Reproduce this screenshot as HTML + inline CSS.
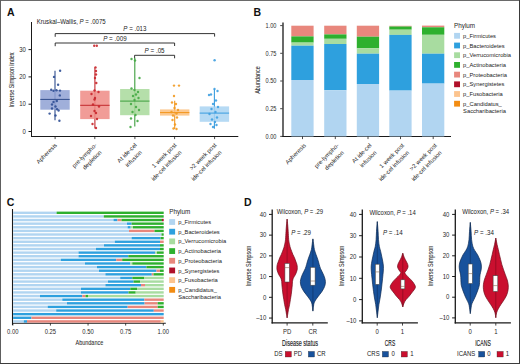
<!DOCTYPE html>
<html><head><meta charset="utf-8"><style>
html,body{margin:0;padding:0;background:#fff;}
svg{display:block;font-family:"Liberation Sans",sans-serif;}
</style></head><body>
<svg width="520" height="364" viewBox="0 0 520 364">
<rect x="0" y="0" width="520" height="364" fill="#fff"/>
<text x="6.90" y="15.80" font-size="10.5" text-anchor="start" fill="#111" font-weight="bold" >A</text>
<text x="253.40" y="15.50" font-size="10.5" text-anchor="start" fill="#111" font-weight="bold" >B</text>
<text x="6.80" y="205.60" font-size="10.5" text-anchor="start" fill="#111" font-weight="bold" >C</text>
<text x="244.00" y="206.30" font-size="10.5" text-anchor="start" fill="#111" font-weight="bold" >D</text>
<line x1="31.50" y1="22.00" x2="31.50" y2="137.00" stroke="#1a1a1a" stroke-width="1.0"/>
<line x1="31.00" y1="136.50" x2="238.30" y2="136.50" stroke="#1a1a1a" stroke-width="1.1"/>
<line x1="28.50" y1="131.50" x2="31.00" y2="131.50" stroke="#1a1a1a" stroke-width="1.0"/>
<text x="25.90" y="133.70" font-size="6.48" text-anchor="end" fill="#2a2a2a" font-weight="normal" textLength="3.34" lengthAdjust="spacingAndGlyphs" >0</text>
<line x1="28.50" y1="104.20" x2="31.00" y2="104.20" stroke="#1a1a1a" stroke-width="1.0"/>
<text x="25.90" y="106.40" font-size="6.48" text-anchor="end" fill="#2a2a2a" font-weight="normal" textLength="6.67" lengthAdjust="spacingAndGlyphs" >10</text>
<line x1="28.50" y1="76.90" x2="31.00" y2="76.90" stroke="#1a1a1a" stroke-width="1.0"/>
<text x="25.90" y="79.10" font-size="6.48" text-anchor="end" fill="#2a2a2a" font-weight="normal" textLength="6.67" lengthAdjust="spacingAndGlyphs" >20</text>
<line x1="28.50" y1="49.60" x2="31.00" y2="49.60" stroke="#1a1a1a" stroke-width="1.0"/>
<text x="25.90" y="51.80" font-size="6.48" text-anchor="end" fill="#2a2a2a" font-weight="normal" textLength="6.67" lengthAdjust="spacingAndGlyphs" >30</text>
<text transform="translate(13.90 80.00) rotate(-90)" font-size="8" text-anchor="middle" fill="#2a2a2a" font-weight="normal" textLength="55" lengthAdjust="spacingAndGlyphs" stroke="#2a2a2a" stroke-width="0.06">Inverse Simpson index</text>
<text x="36.70" y="24.40" font-size="6.5" text-anchor="start" fill="#222" font-weight="normal" textLength="69" lengthAdjust="spacingAndGlyphs" >Kruskal–Wallis, <tspan font-style="italic">P</tspan> = .0075</text>
<path d="M55.2 36.800000000000004V33.6H214.6V36.6" fill="none" stroke="#2a2a2a" stroke-width="0.95"/>
<text x="134.90" y="31.40" font-size="6.5" text-anchor="middle" fill="#222" font-weight="normal" textLength="23.1" lengthAdjust="spacingAndGlyphs" ><tspan font-style="italic">P</tspan> = .013</text>
<path d="M55.2 46.2V43.0H174.6V46.0" fill="none" stroke="#2a2a2a" stroke-width="0.95"/>
<text x="114.90" y="40.80" font-size="6.5" text-anchor="middle" fill="#222" font-weight="normal" textLength="23.5" lengthAdjust="spacingAndGlyphs" ><tspan font-style="italic">P</tspan> = .009</text>
<path d="M134.6 58.5V55.3H174.6V58.3" fill="none" stroke="#2a2a2a" stroke-width="0.95"/>
<text x="154.60" y="53.10" font-size="6.5" text-anchor="middle" fill="#222" font-weight="normal" textLength="20" lengthAdjust="spacingAndGlyphs" ><tspan font-style="italic">P</tspan> = .05</text>
<line x1="55.00" y1="70.80" x2="55.00" y2="120.30" stroke="#2F4B8C" stroke-width="1.1"/>
<rect x="40.30" y="90.10" width="29.40" height="19.60" fill="#8FA1D3" fill-opacity="0.85" stroke="none" stroke-width="0"/>
<line x1="40.30" y1="99.40" x2="69.70" y2="99.40" stroke="#2F4B8C" stroke-width="1.0"/>
<line x1="94.90" y1="67.40" x2="94.90" y2="128.50" stroke="#C42A2E" stroke-width="1.1"/>
<rect x="80.20" y="90.70" width="29.40" height="28.40" fill="#EF8B85" fill-opacity="0.85" stroke="none" stroke-width="0"/>
<line x1="80.20" y1="105.30" x2="109.60" y2="105.30" stroke="#C42A2E" stroke-width="1.0"/>
<line x1="134.80" y1="57.80" x2="134.80" y2="126.50" stroke="#3D9E3D" stroke-width="1.1"/>
<rect x="120.10" y="89.00" width="29.40" height="26.20" fill="#A8D99B" fill-opacity="0.85" stroke="none" stroke-width="0"/>
<line x1="120.10" y1="101.10" x2="149.50" y2="101.10" stroke="#3D9E3D" stroke-width="1.0"/>
<line x1="174.70" y1="100.70" x2="174.70" y2="129.00" stroke="#F2951B" stroke-width="1.1"/>
<rect x="160.00" y="109.40" width="29.40" height="6.20" fill="#FCC07C" fill-opacity="0.85" stroke="none" stroke-width="0"/>
<line x1="160.00" y1="112.60" x2="189.40" y2="112.60" stroke="#F2951B" stroke-width="1.0"/>
<line x1="214.40" y1="89.00" x2="214.40" y2="128.70" stroke="#3A9DDF" stroke-width="1.1"/>
<rect x="199.70" y="106.40" width="29.40" height="15.40" fill="#A9D3F2" fill-opacity="0.85" stroke="none" stroke-width="0"/>
<line x1="199.70" y1="113.10" x2="229.10" y2="113.10" stroke="#3A9DDF" stroke-width="1.0"/>
<circle cx="60.10" cy="70.80" r="1.2" fill="#2F4F95" fill-opacity="0.9"/>
<circle cx="54.00" cy="76.90" r="1.2" fill="#2F4F95" fill-opacity="0.9"/>
<circle cx="58.10" cy="84.80" r="1.2" fill="#2F4F95" fill-opacity="0.9"/>
<circle cx="51.20" cy="89.70" r="1.2" fill="#2F4F95" fill-opacity="0.9"/>
<circle cx="53.50" cy="90.80" r="1.2" fill="#2F4F95" fill-opacity="0.9"/>
<circle cx="56.50" cy="90.20" r="1.2" fill="#2F4F95" fill-opacity="0.9"/>
<circle cx="60.00" cy="90.60" r="1.2" fill="#2F4F95" fill-opacity="0.9"/>
<circle cx="59.80" cy="95.40" r="1.2" fill="#2F4F95" fill-opacity="0.9"/>
<circle cx="53.50" cy="102.00" r="1.2" fill="#2F4F95" fill-opacity="0.9"/>
<circle cx="52.00" cy="104.50" r="1.2" fill="#2F4F95" fill-opacity="0.9"/>
<circle cx="55.50" cy="106.50" r="1.2" fill="#2F4F95" fill-opacity="0.9"/>
<circle cx="52.00" cy="108.50" r="1.2" fill="#2F4F95" fill-opacity="0.9"/>
<circle cx="57.00" cy="109.30" r="1.2" fill="#2F4F95" fill-opacity="0.9"/>
<circle cx="58.60" cy="110.50" r="1.2" fill="#2F4F95" fill-opacity="0.9"/>
<circle cx="49.60" cy="113.60" r="1.2" fill="#2F4F95" fill-opacity="0.9"/>
<circle cx="55.50" cy="115.50" r="1.2" fill="#2F4F95" fill-opacity="0.9"/>
<circle cx="59.40" cy="120.70" r="1.2" fill="#2F4F95" fill-opacity="0.9"/>
<circle cx="56.80" cy="101.00" r="1.2" fill="#2F4F95" fill-opacity="0.9"/>
<circle cx="94.20" cy="45.70" r="1.2" fill="#C8262B" fill-opacity="0.9"/>
<circle cx="96.80" cy="45.70" r="1.2" fill="#C8262B" fill-opacity="0.9"/>
<circle cx="95.50" cy="67.40" r="1.2" fill="#C8262B" fill-opacity="0.9"/>
<circle cx="96.00" cy="71.00" r="1.2" fill="#C8262B" fill-opacity="0.9"/>
<circle cx="96.00" cy="74.50" r="1.2" fill="#C8262B" fill-opacity="0.9"/>
<circle cx="95.00" cy="78.00" r="1.2" fill="#C8262B" fill-opacity="0.9"/>
<circle cx="96.30" cy="83.00" r="1.2" fill="#C8262B" fill-opacity="0.9"/>
<circle cx="94.50" cy="90.50" r="1.2" fill="#C8262B" fill-opacity="0.9"/>
<circle cx="98.50" cy="92.00" r="1.2" fill="#C8262B" fill-opacity="0.9"/>
<circle cx="91.50" cy="94.00" r="1.2" fill="#C8262B" fill-opacity="0.9"/>
<circle cx="95.00" cy="98.00" r="1.2" fill="#C8262B" fill-opacity="0.9"/>
<circle cx="93.00" cy="104.50" r="1.2" fill="#C8262B" fill-opacity="0.9"/>
<circle cx="99.00" cy="106.50" r="1.2" fill="#C8262B" fill-opacity="0.9"/>
<circle cx="94.50" cy="111.00" r="1.2" fill="#C8262B" fill-opacity="0.9"/>
<circle cx="96.00" cy="113.00" r="1.2" fill="#C8262B" fill-opacity="0.9"/>
<circle cx="91.00" cy="116.00" r="1.2" fill="#C8262B" fill-opacity="0.9"/>
<circle cx="97.00" cy="119.00" r="1.2" fill="#C8262B" fill-opacity="0.9"/>
<circle cx="92.50" cy="124.00" r="1.2" fill="#C8262B" fill-opacity="0.9"/>
<circle cx="96.00" cy="128.00" r="1.2" fill="#C8262B" fill-opacity="0.9"/>
<circle cx="94.50" cy="99.50" r="1.2" fill="#C8262B" fill-opacity="0.9"/>
<circle cx="131.50" cy="59.00" r="1.2" fill="#44A844" fill-opacity="0.9"/>
<circle cx="135.00" cy="60.50" r="1.2" fill="#44A844" fill-opacity="0.9"/>
<circle cx="139.50" cy="78.00" r="1.2" fill="#44A844" fill-opacity="0.9"/>
<circle cx="131.50" cy="88.50" r="1.2" fill="#44A844" fill-opacity="0.9"/>
<circle cx="134.50" cy="90.00" r="1.2" fill="#44A844" fill-opacity="0.9"/>
<circle cx="138.00" cy="92.00" r="1.2" fill="#44A844" fill-opacity="0.9"/>
<circle cx="133.00" cy="96.00" r="1.2" fill="#44A844" fill-opacity="0.9"/>
<circle cx="138.50" cy="98.00" r="1.2" fill="#44A844" fill-opacity="0.9"/>
<circle cx="131.00" cy="104.00" r="1.2" fill="#44A844" fill-opacity="0.9"/>
<circle cx="136.00" cy="107.00" r="1.2" fill="#44A844" fill-opacity="0.9"/>
<circle cx="139.00" cy="110.00" r="1.2" fill="#44A844" fill-opacity="0.9"/>
<circle cx="132.50" cy="112.00" r="1.2" fill="#44A844" fill-opacity="0.9"/>
<circle cx="135.50" cy="115.00" r="1.2" fill="#44A844" fill-opacity="0.9"/>
<circle cx="131.00" cy="118.50" r="1.2" fill="#44A844" fill-opacity="0.9"/>
<circle cx="137.50" cy="121.00" r="1.2" fill="#44A844" fill-opacity="0.9"/>
<circle cx="130.50" cy="127.00" r="1.2" fill="#44A844" fill-opacity="0.9"/>
<circle cx="134.50" cy="100.00" r="1.2" fill="#44A844" fill-opacity="0.9"/>
<circle cx="136.00" cy="94.50" r="1.2" fill="#44A844" fill-opacity="0.9"/>
<circle cx="174.00" cy="85.60" r="1.2" fill="#F29A20" fill-opacity="0.9"/>
<circle cx="179.00" cy="85.60" r="1.2" fill="#F29A20" fill-opacity="0.9"/>
<circle cx="174.00" cy="96.00" r="1.2" fill="#F29A20" fill-opacity="0.9"/>
<circle cx="172.00" cy="102.50" r="1.2" fill="#F29A20" fill-opacity="0.9"/>
<circle cx="176.00" cy="104.00" r="1.2" fill="#F29A20" fill-opacity="0.9"/>
<circle cx="174.50" cy="108.00" r="1.2" fill="#F29A20" fill-opacity="0.9"/>
<circle cx="178.00" cy="110.00" r="1.2" fill="#F29A20" fill-opacity="0.9"/>
<circle cx="171.50" cy="112.00" r="1.2" fill="#F29A20" fill-opacity="0.9"/>
<circle cx="176.50" cy="113.50" r="1.2" fill="#F29A20" fill-opacity="0.9"/>
<circle cx="173.00" cy="115.50" r="1.2" fill="#F29A20" fill-opacity="0.9"/>
<circle cx="177.00" cy="117.50" r="1.2" fill="#F29A20" fill-opacity="0.9"/>
<circle cx="172.50" cy="120.00" r="1.2" fill="#F29A20" fill-opacity="0.9"/>
<circle cx="175.00" cy="124.50" r="1.2" fill="#F29A20" fill-opacity="0.9"/>
<circle cx="173.50" cy="128.50" r="1.2" fill="#F29A20" fill-opacity="0.9"/>
<circle cx="176.50" cy="129.00" r="1.2" fill="#F29A20" fill-opacity="0.9"/>
<circle cx="214.60" cy="60.20" r="1.2" fill="#3E9EE0" fill-opacity="0.9"/>
<circle cx="214.50" cy="89.00" r="1.2" fill="#3E9EE0" fill-opacity="0.9"/>
<circle cx="217.50" cy="91.00" r="1.2" fill="#3E9EE0" fill-opacity="0.9"/>
<circle cx="211.00" cy="94.50" r="1.2" fill="#3E9EE0" fill-opacity="0.9"/>
<circle cx="209.00" cy="95.00" r="1.2" fill="#3E9EE0" fill-opacity="0.9"/>
<circle cx="216.00" cy="100.50" r="1.2" fill="#3E9EE0" fill-opacity="0.9"/>
<circle cx="213.00" cy="104.00" r="1.2" fill="#3E9EE0" fill-opacity="0.9"/>
<circle cx="218.00" cy="107.00" r="1.2" fill="#3E9EE0" fill-opacity="0.9"/>
<circle cx="211.50" cy="109.00" r="1.2" fill="#3E9EE0" fill-opacity="0.9"/>
<circle cx="215.50" cy="112.00" r="1.2" fill="#3E9EE0" fill-opacity="0.9"/>
<circle cx="209.50" cy="114.00" r="1.2" fill="#3E9EE0" fill-opacity="0.9"/>
<circle cx="217.00" cy="117.50" r="1.2" fill="#3E9EE0" fill-opacity="0.9"/>
<circle cx="212.00" cy="119.50" r="1.2" fill="#3E9EE0" fill-opacity="0.9"/>
<circle cx="215.00" cy="122.00" r="1.2" fill="#3E9EE0" fill-opacity="0.9"/>
<circle cx="210.50" cy="124.00" r="1.2" fill="#3E9EE0" fill-opacity="0.9"/>
<circle cx="213.00" cy="127.00" r="1.2" fill="#3E9EE0" fill-opacity="0.9"/>
<circle cx="216.50" cy="125.00" r="1.2" fill="#3E9EE0" fill-opacity="0.9"/>
<line x1="55.10" y1="136.50" x2="55.10" y2="139.10" stroke="#1a1a1a" stroke-width="0.8"/>
<text transform="translate(57.50 145.50) rotate(-45)" font-size="6.0" text-anchor="end" fill="#2a2a2a" font-weight="normal" >Apheresis</text>
<line x1="94.80" y1="136.50" x2="94.80" y2="139.10" stroke="#1a1a1a" stroke-width="0.8"/>
<text transform="translate(97.20 145.50) rotate(-45)" font-size="6.0" text-anchor="end" fill="#2a2a2a" font-weight="normal" >pre-lympho-</text>
<text transform="translate(102.20 152.90) rotate(-45)" font-size="6.0" text-anchor="end" fill="#2a2a2a" font-weight="normal" >depletion</text>
<line x1="134.90" y1="136.50" x2="134.90" y2="139.10" stroke="#1a1a1a" stroke-width="0.8"/>
<text transform="translate(137.30 145.50) rotate(-45)" font-size="6.0" text-anchor="end" fill="#2a2a2a" font-weight="normal" >At ide-cel</text>
<text transform="translate(142.30 152.90) rotate(-45)" font-size="6.0" text-anchor="end" fill="#2a2a2a" font-weight="normal" >infusion</text>
<line x1="174.60" y1="136.50" x2="174.60" y2="139.10" stroke="#1a1a1a" stroke-width="0.8"/>
<text transform="translate(177.00 145.50) rotate(-45)" font-size="6.0" text-anchor="end" fill="#2a2a2a" font-weight="normal" >1 week post</text>
<text transform="translate(182.00 152.90) rotate(-45)" font-size="6.0" text-anchor="end" fill="#2a2a2a" font-weight="normal" >ide-cel infusion</text>
<line x1="214.60" y1="136.50" x2="214.60" y2="139.10" stroke="#1a1a1a" stroke-width="0.8"/>
<text transform="translate(217.00 145.50) rotate(-45)" font-size="6.0" text-anchor="end" fill="#2a2a2a" font-weight="normal" >&gt;2 week post</text>
<text transform="translate(222.00 152.90) rotate(-45)" font-size="6.0" text-anchor="end" fill="#2a2a2a" font-weight="normal" >ide-cel infusion</text>
<line x1="283.00" y1="22.60" x2="283.00" y2="137.00" stroke="#1a1a1a" stroke-width="1.3"/>
<line x1="282.30" y1="136.50" x2="451.00" y2="136.50" stroke="#1a1a1a" stroke-width="1.1"/>
<line x1="280.20" y1="136.40" x2="282.50" y2="136.40" stroke="#1a1a1a" stroke-width="0.8"/>
<text x="276.50" y="138.60" font-size="6.3" text-anchor="end" fill="#2a2a2a" font-weight="normal" textLength="10.9" lengthAdjust="spacingAndGlyphs" >0.00</text>
<line x1="280.20" y1="108.70" x2="282.50" y2="108.70" stroke="#1a1a1a" stroke-width="0.8"/>
<text x="276.50" y="110.90" font-size="6.3" text-anchor="end" fill="#2a2a2a" font-weight="normal" textLength="10.9" lengthAdjust="spacingAndGlyphs" >0.25</text>
<line x1="280.20" y1="81.00" x2="282.50" y2="81.00" stroke="#1a1a1a" stroke-width="0.8"/>
<text x="276.50" y="83.20" font-size="6.3" text-anchor="end" fill="#2a2a2a" font-weight="normal" textLength="10.9" lengthAdjust="spacingAndGlyphs" >0.50</text>
<line x1="280.20" y1="53.30" x2="282.50" y2="53.30" stroke="#1a1a1a" stroke-width="0.8"/>
<text x="276.50" y="55.50" font-size="6.3" text-anchor="end" fill="#2a2a2a" font-weight="normal" textLength="10.9" lengthAdjust="spacingAndGlyphs" >0.75</text>
<line x1="280.20" y1="25.60" x2="282.50" y2="25.60" stroke="#1a1a1a" stroke-width="0.8"/>
<text x="276.50" y="27.80" font-size="6.3" text-anchor="end" fill="#2a2a2a" font-weight="normal" textLength="10.9" lengthAdjust="spacingAndGlyphs" >1.00</text>
<text transform="translate(260.10 80.00) rotate(-90)" font-size="8" text-anchor="middle" fill="#2a2a2a" font-weight="normal" textLength="27.6" lengthAdjust="spacingAndGlyphs" stroke="#2a2a2a" stroke-width="0.06">Abundance</text>
<rect x="291.30" y="25.70" width="22.30" height="10.70" fill="#E8877D" stroke="none" stroke-width="0"/>
<rect x="291.30" y="36.40" width="22.30" height="6.20" fill="#2EB02E" stroke="none" stroke-width="0"/>
<rect x="291.30" y="42.60" width="22.30" height="3.10" fill="#A8DCA0" stroke="none" stroke-width="0"/>
<rect x="291.30" y="45.70" width="22.30" height="34.30" fill="#2EA0DE" stroke="none" stroke-width="0"/>
<rect x="291.30" y="80.00" width="22.30" height="56.40" fill="#B1D5F1" stroke="none" stroke-width="0"/>
<rect x="324.20" y="25.70" width="22.30" height="8.70" fill="#E8877D" stroke="none" stroke-width="0"/>
<rect x="324.20" y="34.40" width="22.30" height="4.40" fill="#2EB02E" stroke="none" stroke-width="0"/>
<rect x="324.20" y="38.80" width="22.30" height="5.20" fill="#A8DCA0" stroke="none" stroke-width="0"/>
<rect x="324.20" y="44.00" width="22.30" height="46.20" fill="#2EA0DE" stroke="none" stroke-width="0"/>
<rect x="324.20" y="90.20" width="22.30" height="46.20" fill="#B1D5F1" stroke="none" stroke-width="0"/>
<rect x="356.80" y="25.70" width="22.30" height="11.00" fill="#E8877D" stroke="none" stroke-width="0"/>
<rect x="356.80" y="36.70" width="22.30" height="11.60" fill="#2EB02E" stroke="none" stroke-width="0"/>
<rect x="356.80" y="48.30" width="22.30" height="5.40" fill="#A8DCA0" stroke="none" stroke-width="0"/>
<rect x="356.80" y="53.70" width="22.30" height="30.30" fill="#2EA0DE" stroke="none" stroke-width="0"/>
<rect x="356.80" y="84.00" width="22.30" height="52.40" fill="#B1D5F1" stroke="none" stroke-width="0"/>
<rect x="389.30" y="25.80" width="22.30" height="0.70" fill="#E8877D" stroke="none" stroke-width="0"/>
<rect x="389.30" y="26.50" width="22.30" height="3.20" fill="#2EB02E" stroke="none" stroke-width="0"/>
<rect x="389.30" y="29.70" width="22.30" height="5.20" fill="#A8DCA0" stroke="none" stroke-width="0"/>
<rect x="389.30" y="34.90" width="22.30" height="55.70" fill="#2EA0DE" stroke="none" stroke-width="0"/>
<rect x="389.30" y="90.60" width="22.30" height="45.80" fill="#B1D5F1" stroke="none" stroke-width="0"/>
<rect x="422.00" y="25.60" width="22.30" height="1.70" fill="#E8877D" stroke="none" stroke-width="0"/>
<rect x="422.00" y="27.30" width="22.30" height="7.50" fill="#2EB02E" stroke="none" stroke-width="0"/>
<rect x="422.00" y="34.80" width="22.30" height="18.90" fill="#A8DCA0" stroke="none" stroke-width="0"/>
<rect x="422.00" y="53.70" width="22.30" height="29.90" fill="#2EA0DE" stroke="none" stroke-width="0"/>
<rect x="422.00" y="83.60" width="22.30" height="52.80" fill="#B1D5F1" stroke="none" stroke-width="0"/>
<line x1="302.50" y1="136.50" x2="302.50" y2="139.10" stroke="#1a1a1a" stroke-width="0.8"/>
<text transform="translate(306.50 145.80) rotate(-45)" font-size="6.0" text-anchor="end" fill="#2a2a2a" font-weight="normal" >Apheresis</text>
<line x1="335.30" y1="136.50" x2="335.30" y2="139.10" stroke="#1a1a1a" stroke-width="0.8"/>
<text transform="translate(339.30 145.80) rotate(-45)" font-size="6.0" text-anchor="end" fill="#2a2a2a" font-weight="normal" >pre-lympho-</text>
<text transform="translate(344.30 153.20) rotate(-45)" font-size="6.0" text-anchor="end" fill="#2a2a2a" font-weight="normal" >depletion</text>
<line x1="368.00" y1="136.50" x2="368.00" y2="139.10" stroke="#1a1a1a" stroke-width="0.8"/>
<text transform="translate(372.00 145.80) rotate(-45)" font-size="6.0" text-anchor="end" fill="#2a2a2a" font-weight="normal" >At ide-cel</text>
<text transform="translate(377.00 153.20) rotate(-45)" font-size="6.0" text-anchor="end" fill="#2a2a2a" font-weight="normal" >infusion</text>
<line x1="400.50" y1="136.50" x2="400.50" y2="139.10" stroke="#1a1a1a" stroke-width="0.8"/>
<text transform="translate(404.50 145.80) rotate(-45)" font-size="6.0" text-anchor="end" fill="#2a2a2a" font-weight="normal" >1 week post</text>
<text transform="translate(409.50 153.20) rotate(-45)" font-size="6.0" text-anchor="end" fill="#2a2a2a" font-weight="normal" >ide-cel infusion</text>
<line x1="433.20" y1="136.50" x2="433.20" y2="139.10" stroke="#1a1a1a" stroke-width="0.8"/>
<text transform="translate(437.20 145.80) rotate(-45)" font-size="6.0" text-anchor="end" fill="#2a2a2a" font-weight="normal" >&gt;2 week post</text>
<text transform="translate(442.20 153.20) rotate(-45)" font-size="6.0" text-anchor="end" fill="#2a2a2a" font-weight="normal" >ide-cel infusion</text>
<text x="454.10" y="28.40" font-size="6.8" text-anchor="start" fill="#222" font-weight="normal" textLength="21.01" lengthAdjust="spacingAndGlyphs" >Phylum</text>
<rect x="454.10" y="32.90" width="5.90" height="5.80" fill="#B1D5F1" stroke="none" stroke-width="0"/>
<text x="463.10" y="37.90" font-size="6.21" text-anchor="start" fill="#222" font-weight="normal" textLength="32.91" lengthAdjust="spacingAndGlyphs" >p_Firmicutes</text>
<rect x="454.10" y="42.60" width="5.90" height="5.80" fill="#2EA0DE" stroke="none" stroke-width="0"/>
<text x="463.10" y="47.60" font-size="6.21" text-anchor="start" fill="#222" font-weight="normal" textLength="41.55" lengthAdjust="spacingAndGlyphs" >p_Bacteroidetes</text>
<rect x="454.10" y="52.30" width="5.90" height="5.80" fill="#A8DCA0" stroke="none" stroke-width="0"/>
<text x="463.10" y="57.30" font-size="6.21" text-anchor="start" fill="#222" font-weight="normal" textLength="47.94" lengthAdjust="spacingAndGlyphs" >p_Verrucomicrobia</text>
<rect x="454.10" y="62.00" width="5.90" height="5.80" fill="#2EB02E" stroke="none" stroke-width="0"/>
<text x="463.10" y="67.00" font-size="6.21" text-anchor="start" fill="#222" font-weight="normal" textLength="42.83" lengthAdjust="spacingAndGlyphs" >p_Actinobacteria</text>
<rect x="454.10" y="71.70" width="5.90" height="5.80" fill="#E8877D" stroke="none" stroke-width="0"/>
<text x="463.10" y="76.70" font-size="6.21" text-anchor="start" fill="#222" font-weight="normal" textLength="43.79" lengthAdjust="spacingAndGlyphs" >p_Proteobacteria</text>
<rect x="454.10" y="81.40" width="5.90" height="5.80" fill="#B0102A" stroke="none" stroke-width="0"/>
<text x="463.10" y="86.40" font-size="6.21" text-anchor="start" fill="#222" font-weight="normal" textLength="41.23" lengthAdjust="spacingAndGlyphs" >p_Synergistetes</text>
<rect x="454.10" y="91.10" width="5.90" height="5.80" fill="#FCC48E" stroke="none" stroke-width="0"/>
<text x="463.10" y="96.10" font-size="6.21" text-anchor="start" fill="#222" font-weight="normal" textLength="39.63" lengthAdjust="spacingAndGlyphs" >p_Fusobacteria</text>
<rect x="454.10" y="100.80" width="5.90" height="5.80" fill="#F28C12" stroke="none" stroke-width="0"/>
<text x="463.10" y="105.80" font-size="6.21" text-anchor="start" fill="#222" font-weight="normal" textLength="38.68" lengthAdjust="spacingAndGlyphs" >p_Candidatus_</text>
<text x="463.10" y="112.80" font-size="6.21" text-anchor="start" fill="#222" font-weight="normal" textLength="42.82" lengthAdjust="spacingAndGlyphs" >Saccharibacteria</text>
<line x1="12.50" y1="209.00" x2="12.50" y2="325.00" stroke="#1a1a1a" stroke-width="1.1"/>
<line x1="12.00" y1="323.20" x2="165.80" y2="323.20" stroke="#1a1a1a" stroke-width="1.1"/>
<line x1="12.80" y1="323.20" x2="12.80" y2="325.60" stroke="#1a1a1a" stroke-width="0.8"/>
<text x="12.80" y="334.00" font-size="6.3" text-anchor="middle" fill="#2a2a2a" font-weight="normal" textLength="11.4" lengthAdjust="spacingAndGlyphs" >0.00</text>
<line x1="50.42" y1="323.20" x2="50.42" y2="325.60" stroke="#1a1a1a" stroke-width="0.8"/>
<text x="50.42" y="334.00" font-size="6.3" text-anchor="middle" fill="#2a2a2a" font-weight="normal" textLength="11.4" lengthAdjust="spacingAndGlyphs" >0.25</text>
<line x1="88.05" y1="323.20" x2="88.05" y2="325.60" stroke="#1a1a1a" stroke-width="0.8"/>
<text x="88.05" y="334.00" font-size="6.3" text-anchor="middle" fill="#2a2a2a" font-weight="normal" textLength="11.4" lengthAdjust="spacingAndGlyphs" >0.50</text>
<line x1="125.67" y1="323.20" x2="125.67" y2="325.60" stroke="#1a1a1a" stroke-width="0.8"/>
<text x="125.67" y="334.00" font-size="6.3" text-anchor="middle" fill="#2a2a2a" font-weight="normal" textLength="11.4" lengthAdjust="spacingAndGlyphs" >0.75</text>
<line x1="163.30" y1="323.20" x2="163.30" y2="325.60" stroke="#1a1a1a" stroke-width="0.8"/>
<text x="163.30" y="334.00" font-size="6.3" text-anchor="middle" fill="#2a2a2a" font-weight="normal" textLength="11.4" lengthAdjust="spacingAndGlyphs" >1.00</text>
<text x="89.40" y="345.30" font-size="8" text-anchor="middle" fill="#2a2a2a" font-weight="normal" textLength="27.6" lengthAdjust="spacingAndGlyphs" stroke="#2a2a2a" stroke-width="0.06">Abundance</text>
<rect x="13.10" y="211.60" width="43.50" height="2.40" fill="#B1D5F1" stroke="none" stroke-width="0"/>
<rect x="56.60" y="211.60" width="107.10" height="2.40" fill="#2EB02E" stroke="none" stroke-width="0"/>
<rect x="13.10" y="215.22" width="90.70" height="2.40" fill="#B1D5F1" stroke="none" stroke-width="0"/>
<rect x="103.80" y="215.22" width="59.90" height="2.40" fill="#2EB02E" stroke="none" stroke-width="0"/>
<rect x="13.10" y="218.84" width="100.40" height="2.40" fill="#B1D5F1" stroke="none" stroke-width="0"/>
<rect x="113.50" y="218.84" width="4.00" height="2.40" fill="#2EA0DE" stroke="none" stroke-width="0"/>
<rect x="117.50" y="218.84" width="4.00" height="2.40" fill="#E8877D" stroke="none" stroke-width="0"/>
<rect x="121.50" y="218.84" width="40.50" height="2.40" fill="#2EB02E" stroke="none" stroke-width="0"/>
<rect x="162.00" y="218.84" width="1.70" height="2.40" fill="#B0102A" stroke="none" stroke-width="0"/>
<rect x="13.10" y="222.46" width="113.90" height="2.40" fill="#B1D5F1" stroke="none" stroke-width="0"/>
<rect x="127.00" y="222.46" width="4.60" height="2.40" fill="#2EA0DE" stroke="none" stroke-width="0"/>
<rect x="131.60" y="222.46" width="32.10" height="2.40" fill="#2EB02E" stroke="none" stroke-width="0"/>
<rect x="13.10" y="226.08" width="114.50" height="2.40" fill="#B1D5F1" stroke="none" stroke-width="0"/>
<rect x="127.60" y="226.08" width="3.10" height="2.40" fill="#2EA0DE" stroke="none" stroke-width="0"/>
<rect x="130.70" y="226.08" width="2.30" height="2.40" fill="#A8DCA0" stroke="none" stroke-width="0"/>
<rect x="133.00" y="226.08" width="30.70" height="2.40" fill="#2EB02E" stroke="none" stroke-width="0"/>
<rect x="13.10" y="229.70" width="115.90" height="2.40" fill="#B1D5F1" stroke="none" stroke-width="0"/>
<rect x="129.00" y="229.70" width="25.50" height="2.40" fill="#E8877D" stroke="none" stroke-width="0"/>
<rect x="154.50" y="229.70" width="9.20" height="2.40" fill="#2EB02E" stroke="none" stroke-width="0"/>
<rect x="13.10" y="233.32" width="148.40" height="2.40" fill="#B1D5F1" stroke="none" stroke-width="0"/>
<rect x="161.50" y="233.32" width="2.20" height="2.40" fill="#2EB02E" stroke="none" stroke-width="0"/>
<rect x="13.10" y="236.94" width="118.50" height="2.40" fill="#B1D5F1" stroke="none" stroke-width="0"/>
<rect x="131.60" y="236.94" width="29.00" height="2.40" fill="#2EA0DE" stroke="none" stroke-width="0"/>
<rect x="160.60" y="236.94" width="3.10" height="2.40" fill="#2EB02E" stroke="none" stroke-width="0"/>
<rect x="13.10" y="240.56" width="101.70" height="2.40" fill="#B1D5F1" stroke="none" stroke-width="0"/>
<rect x="114.80" y="240.56" width="45.20" height="2.40" fill="#2EA0DE" stroke="none" stroke-width="0"/>
<rect x="160.00" y="240.56" width="3.70" height="2.40" fill="#E8877D" stroke="none" stroke-width="0"/>
<rect x="13.10" y="244.18" width="90.90" height="2.40" fill="#B1D5F1" stroke="none" stroke-width="0"/>
<rect x="104.00" y="244.18" width="56.00" height="2.40" fill="#2EA0DE" stroke="none" stroke-width="0"/>
<rect x="160.00" y="244.18" width="3.70" height="2.40" fill="#2EB02E" stroke="none" stroke-width="0"/>
<rect x="13.10" y="247.80" width="82.90" height="2.40" fill="#B1D5F1" stroke="none" stroke-width="0"/>
<rect x="96.00" y="247.80" width="64.00" height="2.40" fill="#2EA0DE" stroke="none" stroke-width="0"/>
<rect x="160.00" y="247.80" width="3.70" height="2.40" fill="#2EB02E" stroke="none" stroke-width="0"/>
<rect x="13.10" y="251.42" width="65.40" height="2.40" fill="#B1D5F1" stroke="none" stroke-width="0"/>
<rect x="78.50" y="251.42" width="76.70" height="2.40" fill="#2EA0DE" stroke="none" stroke-width="0"/>
<rect x="155.20" y="251.42" width="1.80" height="2.40" fill="#A8DCA0" stroke="none" stroke-width="0"/>
<rect x="157.00" y="251.42" width="6.70" height="2.40" fill="#2EB02E" stroke="none" stroke-width="0"/>
<rect x="13.10" y="255.04" width="65.40" height="2.40" fill="#B1D5F1" stroke="none" stroke-width="0"/>
<rect x="78.50" y="255.04" width="49.80" height="2.40" fill="#2EA0DE" stroke="none" stroke-width="0"/>
<rect x="128.30" y="255.04" width="35.40" height="2.40" fill="#2EB02E" stroke="none" stroke-width="0"/>
<rect x="13.10" y="258.66" width="47.70" height="2.40" fill="#B1D5F1" stroke="none" stroke-width="0"/>
<rect x="60.80" y="258.66" width="55.40" height="2.40" fill="#2EA0DE" stroke="none" stroke-width="0"/>
<rect x="116.20" y="258.66" width="6.00" height="2.40" fill="#E8877D" stroke="none" stroke-width="0"/>
<rect x="122.20" y="258.66" width="41.50" height="2.40" fill="#2EB02E" stroke="none" stroke-width="0"/>
<rect x="13.10" y="262.28" width="71.90" height="2.40" fill="#B1D5F1" stroke="none" stroke-width="0"/>
<rect x="85.00" y="262.28" width="45.30" height="2.40" fill="#2EA0DE" stroke="none" stroke-width="0"/>
<rect x="130.30" y="262.28" width="2.00" height="2.40" fill="#A8DCA0" stroke="none" stroke-width="0"/>
<rect x="132.30" y="262.28" width="31.40" height="2.40" fill="#2EB02E" stroke="none" stroke-width="0"/>
<rect x="13.10" y="265.90" width="83.90" height="2.40" fill="#B1D5F1" stroke="none" stroke-width="0"/>
<rect x="97.00" y="265.90" width="49.40" height="2.40" fill="#2EA0DE" stroke="none" stroke-width="0"/>
<rect x="146.40" y="265.90" width="17.30" height="2.40" fill="#2EB02E" stroke="none" stroke-width="0"/>
<rect x="13.10" y="269.52" width="85.90" height="2.40" fill="#B1D5F1" stroke="none" stroke-width="0"/>
<rect x="99.00" y="269.52" width="57.50" height="2.40" fill="#2EA0DE" stroke="none" stroke-width="0"/>
<rect x="156.50" y="269.52" width="3.50" height="2.40" fill="#E8877D" stroke="none" stroke-width="0"/>
<rect x="160.00" y="269.52" width="3.70" height="2.40" fill="#2EB02E" stroke="none" stroke-width="0"/>
<rect x="13.10" y="273.14" width="92.30" height="2.40" fill="#B1D5F1" stroke="none" stroke-width="0"/>
<rect x="105.40" y="273.14" width="46.40" height="2.40" fill="#2EA0DE" stroke="none" stroke-width="0"/>
<rect x="151.80" y="273.14" width="1.70" height="2.40" fill="#E8877D" stroke="none" stroke-width="0"/>
<rect x="153.50" y="273.14" width="10.20" height="2.40" fill="#2EB02E" stroke="none" stroke-width="0"/>
<rect x="13.10" y="276.76" width="107.10" height="2.40" fill="#B1D5F1" stroke="none" stroke-width="0"/>
<rect x="120.20" y="276.76" width="12.10" height="2.40" fill="#2EA0DE" stroke="none" stroke-width="0"/>
<rect x="132.30" y="276.76" width="12.10" height="2.40" fill="#2EB02E" stroke="none" stroke-width="0"/>
<rect x="144.40" y="276.76" width="19.30" height="2.40" fill="#A8DCA0" stroke="none" stroke-width="0"/>
<rect x="13.10" y="280.38" width="94.90" height="2.40" fill="#B1D5F1" stroke="none" stroke-width="0"/>
<rect x="108.00" y="280.38" width="25.60" height="2.40" fill="#2EA0DE" stroke="none" stroke-width="0"/>
<rect x="133.60" y="280.38" width="6.50" height="2.40" fill="#2EB02E" stroke="none" stroke-width="0"/>
<rect x="140.10" y="280.38" width="23.60" height="2.40" fill="#A8DCA0" stroke="none" stroke-width="0"/>
<rect x="13.10" y="284.00" width="92.30" height="2.40" fill="#B1D5F1" stroke="none" stroke-width="0"/>
<rect x="105.40" y="284.00" width="35.60" height="2.40" fill="#2EA0DE" stroke="none" stroke-width="0"/>
<rect x="141.00" y="284.00" width="4.00" height="2.40" fill="#E8877D" stroke="none" stroke-width="0"/>
<rect x="145.00" y="284.00" width="18.70" height="2.40" fill="#A8DCA0" stroke="none" stroke-width="0"/>
<rect x="13.10" y="287.62" width="67.90" height="2.40" fill="#B1D5F1" stroke="none" stroke-width="0"/>
<rect x="81.00" y="287.62" width="49.30" height="2.40" fill="#2EA0DE" stroke="none" stroke-width="0"/>
<rect x="130.30" y="287.62" width="6.70" height="2.40" fill="#2EB02E" stroke="none" stroke-width="0"/>
<rect x="137.00" y="287.62" width="26.70" height="2.40" fill="#A8DCA0" stroke="none" stroke-width="0"/>
<rect x="13.10" y="291.24" width="67.90" height="2.40" fill="#B1D5F1" stroke="none" stroke-width="0"/>
<rect x="81.00" y="291.24" width="47.50" height="2.40" fill="#2EA0DE" stroke="none" stroke-width="0"/>
<rect x="128.50" y="291.24" width="7.20" height="2.40" fill="#2EB02E" stroke="none" stroke-width="0"/>
<rect x="135.70" y="291.24" width="28.00" height="2.40" fill="#A8DCA0" stroke="none" stroke-width="0"/>
<rect x="13.10" y="294.86" width="26.90" height="2.40" fill="#B1D5F1" stroke="none" stroke-width="0"/>
<rect x="40.00" y="294.86" width="42.30" height="2.40" fill="#2EA0DE" stroke="none" stroke-width="0"/>
<rect x="82.30" y="294.86" width="3.20" height="2.40" fill="#E8877D" stroke="none" stroke-width="0"/>
<rect x="85.50" y="294.86" width="2.50" height="2.40" fill="#2EB02E" stroke="none" stroke-width="0"/>
<rect x="88.00" y="294.86" width="75.70" height="2.40" fill="#A8DCA0" stroke="none" stroke-width="0"/>
<rect x="13.10" y="298.48" width="49.20" height="2.40" fill="#B1D5F1" stroke="none" stroke-width="0"/>
<rect x="62.30" y="298.48" width="82.10" height="2.40" fill="#2EA0DE" stroke="none" stroke-width="0"/>
<rect x="144.40" y="298.48" width="19.30" height="2.40" fill="#E8877D" stroke="none" stroke-width="0"/>
<rect x="13.10" y="302.10" width="53.90" height="2.40" fill="#B1D5F1" stroke="none" stroke-width="0"/>
<rect x="67.00" y="302.10" width="77.60" height="2.40" fill="#2EA0DE" stroke="none" stroke-width="0"/>
<rect x="144.60" y="302.10" width="13.10" height="2.40" fill="#E8877D" stroke="none" stroke-width="0"/>
<rect x="157.70" y="302.10" width="6.00" height="2.40" fill="#2EB02E" stroke="none" stroke-width="0"/>
<rect x="13.10" y="305.72" width="34.60" height="2.40" fill="#B1D5F1" stroke="none" stroke-width="0"/>
<rect x="47.70" y="305.72" width="80.00" height="2.40" fill="#2EA0DE" stroke="none" stroke-width="0"/>
<rect x="127.70" y="305.72" width="30.00" height="2.40" fill="#E8877D" stroke="none" stroke-width="0"/>
<rect x="157.70" y="305.72" width="6.00" height="2.40" fill="#2EB02E" stroke="none" stroke-width="0"/>
<rect x="13.10" y="309.34" width="43.10" height="2.40" fill="#B1D5F1" stroke="none" stroke-width="0"/>
<rect x="56.20" y="309.34" width="97.60" height="2.40" fill="#2EA0DE" stroke="none" stroke-width="0"/>
<rect x="153.80" y="309.34" width="9.90" height="2.40" fill="#E8877D" stroke="none" stroke-width="0"/>
<rect x="13.10" y="312.96" width="150.60" height="2.40" fill="#2EA0DE" stroke="none" stroke-width="0"/>
<rect x="13.10" y="316.58" width="18.40" height="2.40" fill="#2EA0DE" stroke="none" stroke-width="0"/>
<rect x="31.50" y="316.58" width="132.20" height="2.40" fill="#E8877D" stroke="none" stroke-width="0"/>
<rect x="13.10" y="320.20" width="10.70" height="2.40" fill="#B1D5F1" stroke="none" stroke-width="0"/>
<rect x="23.80" y="320.20" width="3.20" height="2.40" fill="#2EA0DE" stroke="none" stroke-width="0"/>
<rect x="27.00" y="320.20" width="133.80" height="2.40" fill="#E8877D" stroke="none" stroke-width="0"/>
<rect x="160.80" y="320.20" width="2.90" height="2.40" fill="#FCC48E" stroke="none" stroke-width="0"/>
<text x="169.20" y="213.70" font-size="6.8" text-anchor="start" fill="#222" font-weight="normal" textLength="21.01" lengthAdjust="spacingAndGlyphs" >Phylum</text>
<rect x="169.20" y="219.10" width="5.90" height="5.80" fill="#B1D5F1" stroke="none" stroke-width="0"/>
<text x="178.20" y="224.10" font-size="6.21" text-anchor="start" fill="#222" font-weight="normal" textLength="32.91" lengthAdjust="spacingAndGlyphs" >p_Firmicutes</text>
<rect x="169.20" y="228.79" width="5.90" height="5.80" fill="#2EA0DE" stroke="none" stroke-width="0"/>
<text x="178.20" y="233.79" font-size="6.21" text-anchor="start" fill="#222" font-weight="normal" textLength="41.55" lengthAdjust="spacingAndGlyphs" >p_Bacteroidetes</text>
<rect x="169.20" y="238.48" width="5.90" height="5.80" fill="#A8DCA0" stroke="none" stroke-width="0"/>
<text x="178.20" y="243.48" font-size="6.21" text-anchor="start" fill="#222" font-weight="normal" textLength="47.94" lengthAdjust="spacingAndGlyphs" >p_Verrucomicrobia</text>
<rect x="169.20" y="248.17" width="5.90" height="5.80" fill="#2EB02E" stroke="none" stroke-width="0"/>
<text x="178.20" y="253.17" font-size="6.21" text-anchor="start" fill="#222" font-weight="normal" textLength="42.83" lengthAdjust="spacingAndGlyphs" >p_Actinobacteria</text>
<rect x="169.20" y="257.86" width="5.90" height="5.80" fill="#E8877D" stroke="none" stroke-width="0"/>
<text x="178.20" y="262.86" font-size="6.21" text-anchor="start" fill="#222" font-weight="normal" textLength="43.79" lengthAdjust="spacingAndGlyphs" >p_Proteobacteria</text>
<rect x="169.20" y="267.55" width="5.90" height="5.80" fill="#B0102A" stroke="none" stroke-width="0"/>
<text x="178.20" y="272.55" font-size="6.21" text-anchor="start" fill="#222" font-weight="normal" textLength="41.23" lengthAdjust="spacingAndGlyphs" >p_Synergistetes</text>
<rect x="169.20" y="277.24" width="5.90" height="5.80" fill="#FCC48E" stroke="none" stroke-width="0"/>
<text x="178.20" y="282.24" font-size="6.21" text-anchor="start" fill="#222" font-weight="normal" textLength="39.63" lengthAdjust="spacingAndGlyphs" >p_Fusobacteria</text>
<rect x="169.20" y="286.93" width="5.90" height="5.80" fill="#F28C12" stroke="none" stroke-width="0"/>
<text x="178.20" y="291.93" font-size="6.21" text-anchor="start" fill="#222" font-weight="normal" textLength="38.68" lengthAdjust="spacingAndGlyphs" >p_Candidatus_</text>
<text x="178.20" y="298.93" font-size="6.21" text-anchor="start" fill="#222" font-weight="normal" textLength="42.82" lengthAdjust="spacingAndGlyphs" >Saccharibacteria</text>
<line x1="272.20" y1="209.40" x2="272.20" y2="323.40" stroke="#1a1a1a" stroke-width="1.3"/>
<line x1="271.60" y1="322.80" x2="327.80" y2="322.80" stroke="#1a1a1a" stroke-width="1.3"/>
<line x1="269.00" y1="214.40" x2="272.20" y2="214.40" stroke="#1a1a1a" stroke-width="1.0"/>
<text x="266.30" y="216.60" font-size="6.48" text-anchor="end" fill="#2a2a2a" font-weight="normal" textLength="6.67" lengthAdjust="spacingAndGlyphs" >40</text>
<line x1="269.00" y1="235.13" x2="272.20" y2="235.13" stroke="#1a1a1a" stroke-width="1.0"/>
<text x="266.30" y="237.33" font-size="6.48" text-anchor="end" fill="#2a2a2a" font-weight="normal" textLength="6.67" lengthAdjust="spacingAndGlyphs" >30</text>
<line x1="269.00" y1="255.86" x2="272.20" y2="255.86" stroke="#1a1a1a" stroke-width="1.0"/>
<text x="266.30" y="258.06" font-size="6.48" text-anchor="end" fill="#2a2a2a" font-weight="normal" textLength="6.67" lengthAdjust="spacingAndGlyphs" >20</text>
<line x1="269.00" y1="276.59" x2="272.20" y2="276.59" stroke="#1a1a1a" stroke-width="1.0"/>
<text x="266.30" y="278.79" font-size="6.48" text-anchor="end" fill="#2a2a2a" font-weight="normal" textLength="6.67" lengthAdjust="spacingAndGlyphs" >10</text>
<line x1="269.00" y1="297.32" x2="272.20" y2="297.32" stroke="#1a1a1a" stroke-width="1.0"/>
<text x="266.30" y="299.52" font-size="6.48" text-anchor="end" fill="#2a2a2a" font-weight="normal" textLength="3.34" lengthAdjust="spacingAndGlyphs" >0</text>
<line x1="269.00" y1="318.05" x2="272.20" y2="318.05" stroke="#1a1a1a" stroke-width="1.0"/>
<text x="266.30" y="320.25" font-size="6.48" text-anchor="end" fill="#2a2a2a" font-weight="normal" textLength="10.01" lengthAdjust="spacingAndGlyphs" >–10</text>
<line x1="287.10" y1="323.00" x2="287.10" y2="325.60" stroke="#1a1a1a" stroke-width="0.8"/>
<text x="287.10" y="334.30" font-size="6.48" text-anchor="middle" fill="#2a2a2a" font-weight="normal" textLength="8.34" lengthAdjust="spacingAndGlyphs" >PD</text>
<line x1="312.80" y1="323.00" x2="312.80" y2="325.60" stroke="#1a1a1a" stroke-width="0.8"/>
<text x="312.80" y="334.30" font-size="6.48" text-anchor="middle" fill="#2a2a2a" font-weight="normal" textLength="8.67" lengthAdjust="spacingAndGlyphs" >CR</text>
<text x="276.70" y="214.20" font-size="6.5" text-anchor="start" fill="#222" font-weight="normal" textLength="46.5" lengthAdjust="spacingAndGlyphs" >Wilcoxon, <tspan font-style="italic">P</tspan> = .29</text>
<text x="291.20" y="234.80" font-size="6.5" text-anchor="start" fill="#222" font-weight="normal" textLength="19.8" lengthAdjust="spacingAndGlyphs" ><tspan font-style="italic">P</tspan> = .29</text>
<text transform="translate(250.60 266.00) rotate(-90)" font-size="8" text-anchor="middle" fill="#2a2a2a" font-weight="normal" textLength="40.6" lengthAdjust="spacingAndGlyphs" stroke="#2a2a2a" stroke-width="0.06">Inverse Simpson</text>
<text x="300.00" y="346.30" font-size="8.6" text-anchor="middle" fill="#222" font-weight="normal" textLength="36" lengthAdjust="spacingAndGlyphs" stroke="#222" stroke-width="0.15">Disease status</text>
<text x="274.20" y="356.20" font-size="6.48" text-anchor="start" fill="#222" font-weight="normal" textLength="8.34" lengthAdjust="spacingAndGlyphs" >DS</text>
<rect x="285.20" y="351.40" width="6.20" height="5.60" fill="#CA0F2F" stroke="#222" stroke-width="0.3"/>
<text x="293.80" y="356.20" font-size="6.48" text-anchor="start" fill="#222" font-weight="normal" textLength="8.34" lengthAdjust="spacingAndGlyphs" >PD</text>
<rect x="308.30" y="351.40" width="6.20" height="5.60" fill="#18529C" stroke="#222" stroke-width="0.3"/>
<text x="317.00" y="356.20" font-size="6.48" text-anchor="start" fill="#222" font-weight="normal" textLength="8.67" lengthAdjust="spacingAndGlyphs" >CR</text>
<path d="M287.10 219.10 C287.20 220.07 287.52 222.83 287.70 224.90 C287.88 226.97 288.03 229.03 288.20 231.50 C288.37 233.97 288.47 237.50 288.70 239.70 C288.93 241.90 289.32 243.32 289.60 244.70 C289.88 246.08 290.07 246.92 290.40 248.00 C290.73 249.08 291.18 250.12 291.60 251.20 C292.02 252.28 292.42 253.40 292.90 254.50 C293.38 255.60 294.03 256.70 294.50 257.80 C294.97 258.90 295.30 260.00 295.70 261.10 C296.10 262.20 296.63 263.33 296.90 264.40 C297.17 265.47 297.27 266.57 297.30 267.50 C297.33 268.43 297.38 268.87 297.10 270.00 C296.82 271.13 296.23 272.93 295.60 274.30 C294.97 275.67 293.82 277.00 293.30 278.20 C292.78 279.40 292.67 280.40 292.50 281.50 C292.33 282.60 292.42 283.43 292.30 284.80 C292.18 286.17 291.98 288.05 291.80 289.70 C291.62 291.35 291.43 293.05 291.20 294.70 C290.97 296.35 290.67 297.97 290.40 299.60 C290.13 301.23 289.92 302.85 289.60 304.50 C289.28 306.15 288.82 307.85 288.50 309.50 C288.18 311.15 287.93 313.00 287.70 314.40 C287.47 315.80 287.20 317.32 287.10 317.90 C287.00 317.32 286.73 315.80 286.50 314.40 C286.27 313.00 286.02 311.15 285.70 309.50 C285.38 307.85 284.92 306.15 284.60 304.50 C284.28 302.85 284.07 301.23 283.80 299.60 C283.53 297.97 283.23 296.35 283.00 294.70 C282.77 293.05 282.58 291.35 282.40 289.70 C282.22 288.05 282.02 286.17 281.90 284.80 C281.78 283.43 281.87 282.60 281.70 281.50 C281.53 280.40 281.42 279.40 280.90 278.20 C280.38 277.00 279.23 275.67 278.60 274.30 C277.97 272.93 277.38 271.13 277.10 270.00 C276.82 268.87 276.87 268.43 276.90 267.50 C276.93 266.57 277.03 265.47 277.30 264.40 C277.57 263.33 278.10 262.20 278.50 261.10 C278.90 260.00 279.23 258.90 279.70 257.80 C280.17 256.70 280.82 255.60 281.30 254.50 C281.78 253.40 282.18 252.28 282.60 251.20 C283.02 250.12 283.47 249.08 283.80 248.00 C284.13 246.92 284.32 246.08 284.60 244.70 C284.88 243.32 285.27 241.90 285.50 239.70 C285.73 237.50 285.83 233.97 286.00 231.50 C286.17 229.03 286.32 226.97 286.50 224.90 C286.68 222.83 287.00 220.07 287.10 219.10Z" fill="#CA0F2F" stroke="#6E0818" stroke-width="0.7"/>
<line x1="287.10" y1="219.10" x2="287.10" y2="317.90" stroke="#6E0818" stroke-width="0.5"/>
<rect x="284.90" y="263.40" width="4.50" height="18.60" fill="#fff" stroke="#444" stroke-width="0.55"/>
<line x1="284.90" y1="267.60" x2="289.40" y2="267.60" stroke="#8a6a50" stroke-width="0.6"/>
<path d="M312.90 238.90 C313.03 239.87 313.45 242.92 313.70 244.70 C313.95 246.48 314.02 247.97 314.40 249.60 C314.78 251.23 315.43 252.85 316.00 254.50 C316.57 256.15 317.27 257.85 317.80 259.50 C318.33 261.15 318.77 262.93 319.20 264.40 C319.63 265.87 319.93 267.10 320.40 268.30 C320.87 269.50 321.47 270.50 322.00 271.60 C322.53 272.70 323.13 273.80 323.60 274.90 C324.07 276.00 324.50 277.10 324.80 278.20 C325.10 279.30 325.35 280.40 325.40 281.50 C325.45 282.60 325.35 283.70 325.10 284.80 C324.85 285.90 324.42 287.00 323.90 288.10 C323.38 289.20 322.73 290.30 322.00 291.40 C321.27 292.50 320.33 293.60 319.50 294.70 C318.67 295.80 317.68 297.05 317.00 298.00 C316.32 298.95 315.88 299.58 315.40 300.40 C314.92 301.22 314.42 301.93 314.10 302.90 C313.78 303.87 313.70 304.83 313.50 306.20 C313.30 307.57 313.00 310.28 312.90 311.10 C312.80 310.28 312.50 307.57 312.30 306.20 C312.10 304.83 312.02 303.87 311.70 302.90 C311.38 301.93 310.88 301.22 310.40 300.40 C309.92 299.58 309.48 298.95 308.80 298.00 C308.12 297.05 307.13 295.80 306.30 294.70 C305.47 293.60 304.53 292.50 303.80 291.40 C303.07 290.30 302.42 289.20 301.90 288.10 C301.38 287.00 300.95 285.90 300.70 284.80 C300.45 283.70 300.35 282.60 300.40 281.50 C300.45 280.40 300.70 279.30 301.00 278.20 C301.30 277.10 301.73 276.00 302.20 274.90 C302.67 273.80 303.27 272.70 303.80 271.60 C304.33 270.50 304.93 269.50 305.40 268.30 C305.87 267.10 306.17 265.87 306.60 264.40 C307.03 262.93 307.47 261.15 308.00 259.50 C308.53 257.85 309.23 256.15 309.80 254.50 C310.37 252.85 311.02 251.23 311.40 249.60 C311.78 247.97 311.85 246.48 312.10 244.70 C312.35 242.92 312.77 239.87 312.90 238.90Z" fill="#18529C" stroke="#0C2850" stroke-width="0.7"/>
<line x1="312.90" y1="238.90" x2="312.90" y2="311.10" stroke="#0C2850" stroke-width="0.5"/>
<rect x="310.50" y="267.30" width="4.60" height="17.90" fill="#fff" stroke="#444" stroke-width="0.55"/>
<line x1="310.50" y1="281.00" x2="315.10" y2="281.00" stroke="#8a6a50" stroke-width="0.6"/>
<line x1="362.30" y1="209.40" x2="362.30" y2="323.40" stroke="#1a1a1a" stroke-width="1.3"/>
<line x1="361.70" y1="322.80" x2="417.90" y2="322.80" stroke="#1a1a1a" stroke-width="1.3"/>
<line x1="359.10" y1="214.40" x2="362.30" y2="214.40" stroke="#1a1a1a" stroke-width="1.0"/>
<text x="356.40" y="216.60" font-size="6.48" text-anchor="end" fill="#2a2a2a" font-weight="normal" textLength="6.67" lengthAdjust="spacingAndGlyphs" >40</text>
<line x1="359.10" y1="235.70" x2="362.30" y2="235.70" stroke="#1a1a1a" stroke-width="1.0"/>
<text x="356.40" y="237.90" font-size="6.48" text-anchor="end" fill="#2a2a2a" font-weight="normal" textLength="6.67" lengthAdjust="spacingAndGlyphs" >30</text>
<line x1="359.10" y1="257.00" x2="362.30" y2="257.00" stroke="#1a1a1a" stroke-width="1.0"/>
<text x="356.40" y="259.20" font-size="6.48" text-anchor="end" fill="#2a2a2a" font-weight="normal" textLength="6.67" lengthAdjust="spacingAndGlyphs" >20</text>
<line x1="359.10" y1="278.30" x2="362.30" y2="278.30" stroke="#1a1a1a" stroke-width="1.0"/>
<text x="356.40" y="280.50" font-size="6.48" text-anchor="end" fill="#2a2a2a" font-weight="normal" textLength="6.67" lengthAdjust="spacingAndGlyphs" >10</text>
<line x1="359.10" y1="299.60" x2="362.30" y2="299.60" stroke="#1a1a1a" stroke-width="1.0"/>
<text x="356.40" y="301.80" font-size="6.48" text-anchor="end" fill="#2a2a2a" font-weight="normal" textLength="3.34" lengthAdjust="spacingAndGlyphs" >0</text>
<line x1="359.10" y1="320.90" x2="362.30" y2="320.90" stroke="#1a1a1a" stroke-width="1.0"/>
<text x="356.40" y="323.10" font-size="6.48" text-anchor="end" fill="#2a2a2a" font-weight="normal" textLength="10.01" lengthAdjust="spacingAndGlyphs" >–10</text>
<line x1="377.20" y1="323.00" x2="377.20" y2="325.60" stroke="#1a1a1a" stroke-width="0.8"/>
<text x="377.20" y="334.30" font-size="6.48" text-anchor="middle" fill="#2a2a2a" font-weight="normal" textLength="3.34" lengthAdjust="spacingAndGlyphs" >0</text>
<line x1="402.50" y1="323.00" x2="402.50" y2="325.60" stroke="#1a1a1a" stroke-width="0.8"/>
<text x="402.50" y="334.30" font-size="6.48" text-anchor="middle" fill="#2a2a2a" font-weight="normal" textLength="3.34" lengthAdjust="spacingAndGlyphs" >1</text>
<text x="369.40" y="215.30" font-size="6.5" text-anchor="start" fill="#222" font-weight="normal" textLength="46.3" lengthAdjust="spacingAndGlyphs" >Wilcoxon, <tspan font-style="italic">P</tspan> = .14</text>
<text x="382.90" y="234.80" font-size="6.5" text-anchor="start" fill="#222" font-weight="normal" textLength="19.8" lengthAdjust="spacingAndGlyphs" ><tspan font-style="italic">P</tspan> = .14</text>
<text transform="translate(343.80 266.00) rotate(-90)" font-size="8" text-anchor="middle" fill="#2a2a2a" font-weight="normal" textLength="40.6" lengthAdjust="spacingAndGlyphs" stroke="#2a2a2a" stroke-width="0.06">Inverse Simpson</text>
<text x="390.00" y="346.30" font-size="8.6" text-anchor="middle" fill="#222" font-weight="normal" textLength="10.4" lengthAdjust="spacingAndGlyphs" stroke="#222" stroke-width="0.15">CRS</text>
<text x="367.00" y="356.20" font-size="6.48" text-anchor="start" fill="#222" font-weight="normal" textLength="12.67" lengthAdjust="spacingAndGlyphs" >CRS</text>
<rect x="382.30" y="351.40" width="6.20" height="5.60" fill="#18529C" stroke="#222" stroke-width="0.3"/>
<text x="391.50" y="356.20" font-size="6.48" text-anchor="start" fill="#222" font-weight="normal" textLength="3.34" lengthAdjust="spacingAndGlyphs" >0</text>
<rect x="401.20" y="351.40" width="6.20" height="5.60" fill="#CA0F2F" stroke="#222" stroke-width="0.3"/>
<text x="410.30" y="356.20" font-size="6.48" text-anchor="start" fill="#222" font-weight="normal" textLength="3.34" lengthAdjust="spacingAndGlyphs" >1</text>
<path d="M377.30 221.60 C377.43 223.25 377.90 228.48 378.10 231.50 C378.30 234.52 378.30 237.23 378.50 239.70 C378.70 242.17 378.95 244.38 379.30 246.30 C379.65 248.22 380.20 249.55 380.60 251.20 C381.00 252.85 381.35 254.55 381.70 256.20 C382.05 257.85 382.42 259.45 382.70 261.10 C382.98 262.75 383.30 264.45 383.40 266.10 C383.50 267.75 383.43 268.98 383.30 271.00 C383.17 273.02 382.83 275.90 382.60 278.20 C382.37 280.50 382.15 282.60 381.90 284.80 C381.65 287.00 381.40 289.20 381.10 291.40 C380.80 293.60 380.47 295.82 380.10 298.00 C379.73 300.18 379.23 302.32 378.90 304.50 C378.57 306.68 378.37 308.90 378.10 311.10 C377.83 313.30 377.43 316.60 377.30 317.70 C377.17 316.60 376.77 313.30 376.50 311.10 C376.23 308.90 376.03 306.68 375.70 304.50 C375.37 302.32 374.87 300.18 374.50 298.00 C374.13 295.82 373.80 293.60 373.50 291.40 C373.20 289.20 372.95 287.00 372.70 284.80 C372.45 282.60 372.23 280.50 372.00 278.20 C371.77 275.90 371.43 273.02 371.30 271.00 C371.17 268.98 371.10 267.75 371.20 266.10 C371.30 264.45 371.62 262.75 371.90 261.10 C372.18 259.45 372.55 257.85 372.90 256.20 C373.25 254.55 373.60 252.85 374.00 251.20 C374.40 249.55 374.95 248.22 375.30 246.30 C375.65 244.38 375.90 242.17 376.10 239.70 C376.30 237.23 376.30 234.52 376.50 231.50 C376.70 228.48 377.17 223.25 377.30 221.60Z" fill="#18529C" stroke="#0C2850" stroke-width="0.7"/>
<line x1="377.30" y1="221.60" x2="377.30" y2="317.70" stroke="#0C2850" stroke-width="0.5"/>
<rect x="375.30" y="264.20" width="4.10" height="20.20" fill="#fff" stroke="#444" stroke-width="0.55"/>
<line x1="375.30" y1="271.90" x2="379.40" y2="271.90" stroke="#8a6a50" stroke-width="0.6"/>
<path d="M402.80 253.20 C403.07 253.97 403.85 256.48 404.40 257.80 C404.95 259.12 405.55 260.00 406.10 261.10 C406.65 262.20 407.38 263.42 407.70 264.40 C408.02 265.38 408.08 266.23 408.00 267.00 C407.92 267.77 407.53 268.33 407.20 269.00 C406.87 269.67 406.40 270.40 406.00 271.00 C405.60 271.60 404.78 271.95 404.80 272.60 C404.82 273.25 405.33 273.97 406.10 274.90 C406.87 275.83 408.33 277.10 409.40 278.20 C410.47 279.30 411.62 280.40 412.50 281.50 C413.38 282.60 414.22 283.85 414.70 284.80 C415.18 285.75 415.48 286.38 415.40 287.20 C415.32 288.02 414.83 288.73 414.20 289.70 C413.57 290.67 412.45 291.90 411.60 293.00 C410.75 294.10 410.02 295.20 409.10 296.30 C408.18 297.40 406.93 298.50 406.10 299.60 C405.27 300.70 404.65 301.67 404.10 302.90 C403.55 304.13 403.02 306.32 402.80 307.00 C402.58 306.32 402.05 304.13 401.50 302.90 C400.95 301.67 400.33 300.70 399.50 299.60 C398.67 298.50 397.42 297.40 396.50 296.30 C395.58 295.20 394.85 294.10 394.00 293.00 C393.15 291.90 392.03 290.67 391.40 289.70 C390.77 288.73 390.28 288.02 390.20 287.20 C390.12 286.38 390.42 285.75 390.90 284.80 C391.38 283.85 392.22 282.60 393.10 281.50 C393.98 280.40 395.13 279.30 396.20 278.20 C397.27 277.10 398.73 275.83 399.50 274.90 C400.27 273.97 400.78 273.25 400.80 272.60 C400.82 271.95 400.00 271.60 399.60 271.00 C399.20 270.40 398.73 269.67 398.40 269.00 C398.07 268.33 397.68 267.77 397.60 267.00 C397.52 266.23 397.58 265.38 397.90 264.40 C398.22 263.42 398.95 262.20 399.50 261.10 C400.05 260.00 400.65 259.12 401.20 257.80 C401.75 256.48 402.53 253.97 402.80 253.20Z" fill="#CA0F2F" stroke="#6E0818" stroke-width="0.7"/>
<line x1="402.80" y1="253.20" x2="402.80" y2="307.00" stroke="#6E0818" stroke-width="0.5"/>
<rect x="400.90" y="279.80" width="3.90" height="9.10" fill="#fff" stroke="#444" stroke-width="0.55"/>
<line x1="400.90" y1="286.40" x2="404.80" y2="286.40" stroke="#8a6a50" stroke-width="0.6"/>
<line x1="455.30" y1="209.40" x2="455.30" y2="323.40" stroke="#1a1a1a" stroke-width="1.3"/>
<line x1="454.70" y1="322.80" x2="510.90" y2="322.80" stroke="#1a1a1a" stroke-width="1.3"/>
<line x1="452.10" y1="214.40" x2="455.30" y2="214.40" stroke="#1a1a1a" stroke-width="1.0"/>
<text x="449.40" y="216.60" font-size="6.48" text-anchor="end" fill="#2a2a2a" font-weight="normal" textLength="6.67" lengthAdjust="spacingAndGlyphs" >40</text>
<line x1="452.10" y1="235.10" x2="455.30" y2="235.10" stroke="#1a1a1a" stroke-width="1.0"/>
<text x="449.40" y="237.30" font-size="6.48" text-anchor="end" fill="#2a2a2a" font-weight="normal" textLength="6.67" lengthAdjust="spacingAndGlyphs" >30</text>
<line x1="452.10" y1="255.80" x2="455.30" y2="255.80" stroke="#1a1a1a" stroke-width="1.0"/>
<text x="449.40" y="258.00" font-size="6.48" text-anchor="end" fill="#2a2a2a" font-weight="normal" textLength="6.67" lengthAdjust="spacingAndGlyphs" >20</text>
<line x1="452.10" y1="276.50" x2="455.30" y2="276.50" stroke="#1a1a1a" stroke-width="1.0"/>
<text x="449.40" y="278.70" font-size="6.48" text-anchor="end" fill="#2a2a2a" font-weight="normal" textLength="6.67" lengthAdjust="spacingAndGlyphs" >10</text>
<line x1="452.10" y1="297.20" x2="455.30" y2="297.20" stroke="#1a1a1a" stroke-width="1.0"/>
<text x="449.40" y="299.40" font-size="6.48" text-anchor="end" fill="#2a2a2a" font-weight="normal" textLength="3.34" lengthAdjust="spacingAndGlyphs" >0</text>
<line x1="452.10" y1="317.90" x2="455.30" y2="317.90" stroke="#1a1a1a" stroke-width="1.0"/>
<text x="449.40" y="320.10" font-size="6.48" text-anchor="end" fill="#2a2a2a" font-weight="normal" textLength="10.01" lengthAdjust="spacingAndGlyphs" >–10</text>
<line x1="470.20" y1="323.00" x2="470.20" y2="325.60" stroke="#1a1a1a" stroke-width="0.8"/>
<text x="470.20" y="334.30" font-size="6.48" text-anchor="middle" fill="#2a2a2a" font-weight="normal" textLength="3.34" lengthAdjust="spacingAndGlyphs" >0</text>
<line x1="495.80" y1="323.00" x2="495.80" y2="325.60" stroke="#1a1a1a" stroke-width="0.8"/>
<text x="495.80" y="334.30" font-size="6.48" text-anchor="middle" fill="#2a2a2a" font-weight="normal" textLength="3.34" lengthAdjust="spacingAndGlyphs" >1</text>
<text x="462.30" y="214.40" font-size="6.5" text-anchor="start" fill="#222" font-weight="normal" textLength="46.8" lengthAdjust="spacingAndGlyphs" >Wilcoxon, <tspan font-style="italic">P</tspan> = .34</text>
<text x="474.10" y="234.80" font-size="6.5" text-anchor="start" fill="#222" font-weight="normal" textLength="19.8" lengthAdjust="spacingAndGlyphs" ><tspan font-style="italic">P</tspan> = .34</text>
<text transform="translate(432.80 266.00) rotate(-90)" font-size="8" text-anchor="middle" fill="#2a2a2a" font-weight="normal" textLength="40.6" lengthAdjust="spacingAndGlyphs" stroke="#2a2a2a" stroke-width="0.06">Inverse Simpson</text>
<text x="483.00" y="346.30" font-size="8.6" text-anchor="middle" fill="#222" font-weight="normal" textLength="15.6" lengthAdjust="spacingAndGlyphs" stroke="#222" stroke-width="0.15">ICANS</text>
<text x="457.00" y="356.20" font-size="6.48" text-anchor="start" fill="#222" font-weight="normal" textLength="18.34" lengthAdjust="spacingAndGlyphs" >ICANS</text>
<rect x="478.60" y="351.40" width="6.20" height="5.60" fill="#18529C" stroke="#222" stroke-width="0.3"/>
<text x="487.20" y="356.20" font-size="6.48" text-anchor="start" fill="#222" font-weight="normal" textLength="3.34" lengthAdjust="spacingAndGlyphs" >0</text>
<rect x="497.00" y="351.40" width="6.20" height="5.60" fill="#CA0F2F" stroke="#222" stroke-width="0.3"/>
<text x="505.80" y="356.20" font-size="6.48" text-anchor="start" fill="#222" font-weight="normal" textLength="3.34" lengthAdjust="spacingAndGlyphs" >1</text>
<path d="M470.30 222.40 C470.43 223.92 470.88 228.62 471.10 231.50 C471.32 234.38 471.32 237.23 471.60 239.70 C471.88 242.17 472.28 244.52 472.80 246.30 C473.32 248.08 473.93 249.03 474.70 250.40 C475.47 251.77 476.68 253.27 477.40 254.50 C478.12 255.73 478.45 256.55 479.00 257.80 C479.55 259.05 480.30 260.62 480.70 262.00 C481.10 263.38 481.33 264.77 481.40 266.10 C481.47 267.43 481.33 268.53 481.10 270.00 C480.87 271.47 480.23 273.27 480.00 274.90 C479.77 276.53 479.80 278.15 479.70 279.80 C479.60 281.45 479.68 283.15 479.40 284.80 C479.12 286.45 478.55 288.05 478.00 289.70 C477.45 291.35 476.78 293.05 476.10 294.70 C475.42 296.35 474.60 298.10 473.90 299.60 C473.20 301.10 472.37 302.33 471.90 303.70 C471.43 305.07 471.37 306.15 471.10 307.80 C470.83 309.45 470.43 312.63 470.30 313.60 C470.17 312.63 469.77 309.45 469.50 307.80 C469.23 306.15 469.17 305.07 468.70 303.70 C468.23 302.33 467.40 301.10 466.70 299.60 C466.00 298.10 465.18 296.35 464.50 294.70 C463.82 293.05 463.15 291.35 462.60 289.70 C462.05 288.05 461.48 286.45 461.20 284.80 C460.92 283.15 461.00 281.45 460.90 279.80 C460.80 278.15 460.83 276.53 460.60 274.90 C460.37 273.27 459.73 271.47 459.50 270.00 C459.27 268.53 459.13 267.43 459.20 266.10 C459.27 264.77 459.50 263.38 459.90 262.00 C460.30 260.62 461.05 259.05 461.60 257.80 C462.15 256.55 462.48 255.73 463.20 254.50 C463.92 253.27 465.13 251.77 465.90 250.40 C466.67 249.03 467.28 248.08 467.80 246.30 C468.32 244.52 468.72 242.17 469.00 239.70 C469.28 237.23 469.28 234.38 469.50 231.50 C469.72 228.62 470.17 223.92 470.30 222.40Z" fill="#18529C" stroke="#0C2850" stroke-width="0.7"/>
<line x1="470.30" y1="222.40" x2="470.30" y2="313.60" stroke="#0C2850" stroke-width="0.5"/>
<rect x="468.20" y="264.00" width="4.20" height="19.50" fill="#fff" stroke="#444" stroke-width="0.55"/>
<line x1="468.20" y1="273.60" x2="472.40" y2="273.60" stroke="#8a6a50" stroke-width="0.6"/>
<path d="M495.80 238.10 C496.02 239.20 496.68 242.78 497.10 244.70 C497.52 246.62 497.92 247.97 498.30 249.60 C498.68 251.23 499.02 252.85 499.40 254.50 C499.78 256.15 500.20 257.85 500.60 259.50 C501.00 261.15 501.30 262.67 501.80 264.40 C502.30 266.13 503.00 268.15 503.60 269.90 C504.20 271.65 504.80 273.25 505.40 274.90 C506.00 276.55 506.73 278.15 507.20 279.80 C507.67 281.45 508.05 283.15 508.20 284.80 C508.35 286.45 508.33 288.05 508.10 289.70 C507.87 291.35 507.45 293.05 506.80 294.70 C506.15 296.35 505.18 297.97 504.20 299.60 C503.22 301.23 501.88 302.98 500.90 304.50 C499.92 306.02 499.02 307.32 498.30 308.70 C497.58 310.08 497.02 311.30 496.60 312.80 C496.18 314.30 495.93 316.88 495.80 317.70 C495.67 316.88 495.42 314.30 495.00 312.80 C494.58 311.30 494.02 310.08 493.30 308.70 C492.58 307.32 491.68 306.02 490.70 304.50 C489.72 302.98 488.38 301.23 487.40 299.60 C486.42 297.97 485.45 296.35 484.80 294.70 C484.15 293.05 483.73 291.35 483.50 289.70 C483.27 288.05 483.25 286.45 483.40 284.80 C483.55 283.15 483.93 281.45 484.40 279.80 C484.87 278.15 485.60 276.55 486.20 274.90 C486.80 273.25 487.40 271.65 488.00 269.90 C488.60 268.15 489.30 266.13 489.80 264.40 C490.30 262.67 490.60 261.15 491.00 259.50 C491.40 257.85 491.82 256.15 492.20 254.50 C492.58 252.85 492.92 251.23 493.30 249.60 C493.68 247.97 494.08 246.62 494.50 244.70 C494.92 242.78 495.58 239.20 495.80 238.10Z" fill="#CA0F2F" stroke="#6E0818" stroke-width="0.7"/>
<line x1="495.80" y1="238.10" x2="495.80" y2="317.70" stroke="#6E0818" stroke-width="0.5"/>
<rect x="493.10" y="275.70" width="4.70" height="15.70" fill="#fff" stroke="#444" stroke-width="0.55"/>
<line x1="493.10" y1="285.60" x2="497.80" y2="285.60" stroke="#8a6a50" stroke-width="0.6"/>
<line x1="0" y1="0.5" x2="520" y2="0.5" stroke="#6a6a6a" stroke-width="1"/>
<line x1="0.5" y1="0" x2="0.5" y2="364" stroke="#5e5e5e" stroke-width="1"/>
<line x1="519.5" y1="0" x2="519.5" y2="364" stroke="#3a3a3a" stroke-width="1"/>
<line x1="0" y1="363.5" x2="520" y2="363.5" stroke="#3c3c3c" stroke-width="1"/>
</svg>
</body></html>
